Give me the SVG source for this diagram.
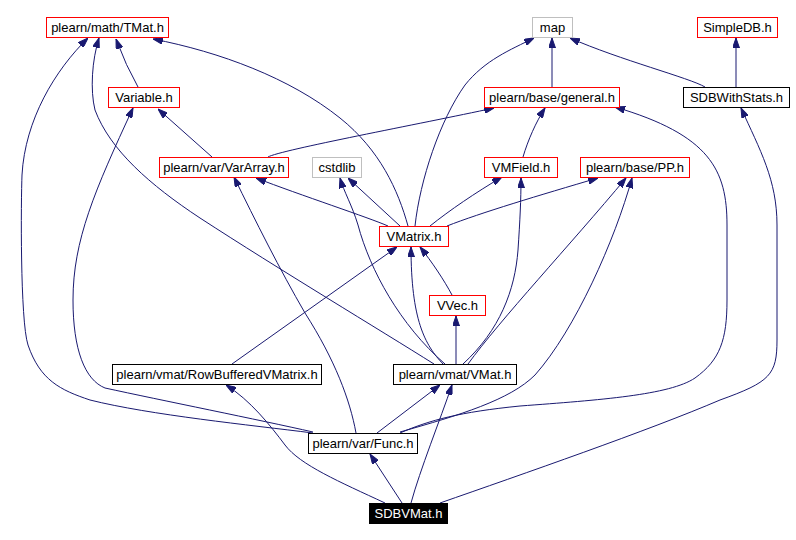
<svg xmlns="http://www.w3.org/2000/svg" width="796" height="540" viewBox="0 0 796 540">
<style>
.n rect{fill:#fff;stroke-width:1}
.r rect{stroke:#ff0000}
.g rect{stroke:#bfbfbf}
.b rect{stroke:#000}
.n text{font-family:"Liberation Sans",Arial,sans-serif;font-size:13px;fill:#000;text-anchor:middle}
#SDBVMat rect{fill:#000;stroke:#000}
#SDBVMat text{fill:#fff}
#edges path{fill:none;stroke:#191970;stroke-width:1;marker-end:url(#ah)}
</style>
<defs>
<marker id="ah" viewBox="0 0 10 7" refX="10" refY="3.5" markerWidth="10" markerHeight="7" markerUnits="userSpaceOnUse" orient="auto">
<path d="M0,0 L10,3.5 L0,7 z" fill="#191970" stroke="#191970"/>
</marker>
</defs>
<rect width="796" height="540" fill="#fff"/>
<g id="edges">
<path d="M138,87 Q126,66 116,39"/>
<path d="M212,157 L158,109"/>
<path d="M268,157 C280,150 420,124 494,108"/>
<path d="M408,226 C398,190 380,150 340,118 C290,78 220,52 153,39"/>
<path d="M415,226 C420,180 440,120 465,85 C485,60 510,50 534,38"/>
<path d="M388,226 C370,218 300,195 256,178"/>
<path d="M400,226 L348,178"/>
<path d="M430,226 C450,210 475,193 502,177"/>
<path d="M447,226 C480,213 540,195 598,178"/>
<path d="M523,157 C528,140 536,122 545,108"/>
<path d="M552,87 L552,38"/>
<path d="M705,87 C690,78 620,60 570,38"/>
<path d="M736,87 L736,38"/>
<path d="M452,295 C444,280 432,262 420,247"/>
<path d="M232,364 L397,247"/>
<path d="M443,364 C425,345 411,320 411,247"/>
<path d="M456,364 L456,316"/>
<path d="M434,364 C380,330 280,270 200,218 C150,185 110,150 95,110 C90,90 92,60 99,38"/>
<path d="M445,364 C400,325 370,270 358,225 C352,205 344,192 340,178"/>
<path d="M463,364 C500,330 515,290 518,250 C520,220 521,200 521,178"/>
<path d="M468,364 C500,320 570,245 626,178"/>
<path d="M313,433 C250,425 150,415 90,400 C60,390 40,380 28,345 C20,320 21,200 22,175 C25,120 55,70 88,38"/>
<path d="M313,432 C260,420 160,400 105,388 C85,380 73,350 73,300 C73,240 95,190 133,108"/>
<path d="M356,433 C350,400 335,360 305,313 C280,270 255,220 234,177"/>
<path d="M377,433 L440,385"/>
<path d="M400,433 C430,420 460,412 520,406 C600,400 670,395 695,378 C720,360 727,340 727,300 L727,225 C727,170 710,135 615,107"/>
<path d="M400,432 C460,415 510,400 535,375 C575,330 615,240 632,178"/>
<path d="M385,503 C340,482 300,465 285,445 C270,425 250,400 226,385"/>
<path d="M402,503 L370,454"/>
<path d="M411,503 C420,470 440,420 452,385"/>
<path d="M440,503 C520,475 650,430 720,400 C770,382 777,375 777,340 L777,225 C777,180 760,150 741,108"/>
</g>
<g id="TMat" class="n r"><rect x="46.5" y="17.5" width="122" height="20"/><text x="107.5" y="32">plearn/math/TMat.h</text></g>
<g id="map" class="n g"><rect x="532.5" y="17.5" width="40" height="20"/><text x="552.5" y="32">map</text></g>
<g id="SimpleDB" class="n r"><rect x="697.5" y="17.5" width="80" height="20"/><text x="737.5" y="32">SimpleDB.h</text></g>
<g id="Variable" class="n r"><rect x="108.5" y="87.5" width="71" height="20"/><text x="144" y="102">Variable.h</text></g>
<g id="general" class="n r"><rect x="484.5" y="87.5" width="135" height="20"/><text x="552" y="102">plearn/base/general.h</text></g>
<g id="SDBWithStats" class="n b"><rect x="683.5" y="87.5" width="106" height="20"/><text x="736.5" y="102">SDBWithStats.h</text></g>
<g id="VarArray" class="n r"><rect x="159.5" y="157.5" width="129" height="20"/><text x="224" y="172">plearn/var/VarArray.h</text></g>
<g id="cstdlib" class="n g"><rect x="312.5" y="157.5" width="49" height="20"/><text x="337" y="172">cstdlib</text></g>
<g id="VMField" class="n r"><rect x="484.5" y="157.5" width="73" height="20"/><text x="521" y="172">VMField.h</text></g>
<g id="PP" class="n r"><rect x="580.5" y="157.5" width="109" height="20"/><text x="635" y="172">plearn/base/PP.h</text></g>
<g id="VMatrix" class="n r"><rect x="379.5" y="226.5" width="69" height="20"/><text x="414" y="241">VMatrix.h</text></g>
<g id="VVec" class="n r"><rect x="429.5" y="295.5" width="56" height="20"/><text x="457.5" y="310">VVec.h</text></g>
<g id="RowBufferedVMatrix" class="n b"><rect x="112.5" y="364.5" width="209" height="20"/><text x="217" y="379">plearn/vmat/RowBufferedVMatrix.h</text></g>
<g id="VMat" class="n b"><rect x="393.5" y="364.5" width="123" height="20"/><text x="455" y="379">plearn/vmat/VMat.h</text></g>
<g id="Func" class="n b"><rect x="308.5" y="433.5" width="109" height="20"/><text x="363" y="448">plearn/var/Func.h</text></g>
<g id="SDBVMat" class="n"><rect x="369.5" y="503.5" width="78" height="20"/><text x="408.5" y="518">SDBVMat.h</text></g>
</svg>
